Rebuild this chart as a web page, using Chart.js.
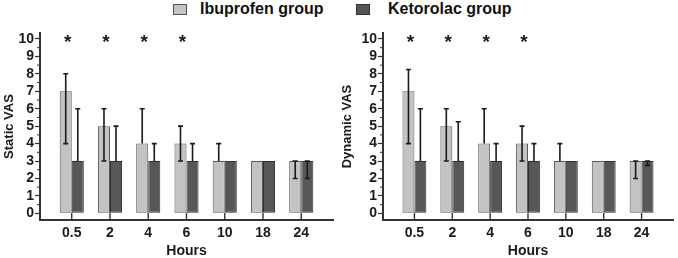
<!DOCTYPE html>
<html>
<head>
<meta charset="utf-8">
<script src="https://cdn.jsdelivr.net/npm/chart.js@4.4.1/dist/chart.umd.min.js"></script>
<style>
  body { margin: 0; width: 678px; height: 258px; background: #fff; position: relative; overflow: hidden;
         font-family: "Liberation Sans", Arial, sans-serif; }
  .box { position: absolute; top: 0; height: 258px; }
  .sw { position: absolute; top: 4px; width: 12px; height: 9px; }
  .lt { position: absolute; top: 0px; font-weight: bold; font-size: 16px; color: #111; white-space: nowrap; }
</style>
</head>
<body>
<div class="sw" style="left:173px;background:#c3c3c3;border:1px solid #555"></div>
<div class="lt" style="left:200px">Ibuprofen group</div>
<div class="sw" style="left:356px;background:#555;border:1px solid #333"></div>
<div class="lt" style="left:388px">Ketorolac group</div>

<div class="box" style="left:0;width:340px"><canvas id="staticVas"></canvas></div>
<div class="box" style="left:340px;width:338px"><canvas id="dynamicVas"></canvas></div>

<script>
// data (median with range bars)
const hours = ["0.5", "2", "4", "6", "10", "18", "24"];
const stars = ["*", "*", "*", "*", "", "", ""];
const yTicks = [0, 1, 2, 3, 4, 5, 6, 7, 8, 9, 10];

const staticIbu   = [7, 5, 4, 4, 3, 3, 3];
const staticIbuLo = [4, 3, 4, 3, 3, 3, 2];
const staticIbuHi = [8, 6, 6, 5, 4, 3, 3];
const staticKet   = [3, 3, 3, 3, 3, 3, 3];
const staticKetLo = [3, 3, 3, 3, 3, 3, 2];
const staticKetHi = [6, 5, 4, 4, 3, 3, 3];

const dynIbu   = [7, 5, 4, 4, 3, 3, 3];
const dynIbuLo = [4, 3, 4, 3, 3, 3, 2];
const dynIbuHi = [8.25, 6, 6, 5, 4, 3, 3];
const dynKet   = [3, 3, 3, 3, 3, 3, 3];
const dynKetLo = [3, 3, 3, 3, 3, 3, 2.75];
const dynKetHi = [6, 5.25, 4, 4, 3, 3, 3];

const ink = "#1a1a1a";
const fam = "'Liberation Sans', Arial, sans-serif";

// error bars, stars and the small extra tick marks
const extras = {
  id: "extras",
  afterDatasetsDraw(chart) {
    const ctx = chart.ctx;
    const xs = chart.scales.x, ys = chart.scales.y;
    const area = chart.chartArea;
    ctx.save();
    ctx.strokeStyle = ink;
    ctx.lineWidth = 1.6;
    chart.data.datasets.forEach((ds, di) => {
      const meta = chart.getDatasetMeta(di);
      meta.data.forEach((bar, i) => {
        const lo = ds.errLo[i], hi = ds.errHi[i];
        if (lo === hi) return;
        const y1 = ys.getPixelForValue(lo), y2 = ys.getPixelForValue(hi);
        ctx.beginPath();
        ctx.moveTo(bar.x, y1); ctx.lineTo(bar.x, y2);
        ctx.moveTo(bar.x - 2.5, y2); ctx.lineTo(bar.x + 2.5, y2);
        if (lo !== ds.data[i].y) { ctx.moveTo(bar.x - 2.5, y1); ctx.lineTo(bar.x + 2.5, y1); }
        ctx.stroke();
      });
    });
    // inward x ticks
    ctx.strokeStyle = "#333";
    ctx.lineWidth = 1.4;
    hours.forEach((h, i) => {
      const x = xs.getPixelForValue(i);
      ctx.beginPath(); ctx.moveTo(x, area.bottom); ctx.lineTo(x, area.bottom - 7); ctx.stroke();
    });
    // minor y ticks
    ctx.lineWidth = 1;
    for (let v = 0.5; v < 10; v += 1) {
      const y = ys.getPixelForValue(v);
      ctx.beginPath(); ctx.moveTo(area.left - 3, y); ctx.lineTo(area.left, y); ctx.stroke();
    }
    // significance stars
    ctx.fillStyle = ink;
    ctx.font = "bold 19px " + fam;
    ctx.textAlign = "center";
    ctx.textBaseline = "middle";
    stars.forEach((s, i) => {
      if (s) ctx.fillText(s, xs.getPixelForValue(i) - 4, ys.getPixelForValue(10) + 4);
    });
    ctx.restore();
  }
};

function makeChart(el, title, ibu, ibuLo, ibuHi, ket, ketLo, ketHi, axisW, rightPad, titlePad) {
  const pts = (arr) => arr.map((v, i) => ({ x: i, y: v }));
  return new Chart(document.getElementById(el), {
    type: "bar",
    data: {
      datasets: [
        { label: "Ibuprofen group", data: pts(ibu), errLo: ibuLo, errHi: ibuHi,
          backgroundColor: "#c3c3c3", borderColor: "#5a5a5a", borderWidth: 1, borderSkipped: false },
        { label: "Ketorolac group", data: pts(ket), errLo: ketLo, errHi: ketHi,
          backgroundColor: "#575757", borderColor: "#303030", borderWidth: 1, borderSkipped: false },
      ],
    },
    options: {
      responsive: true,
      maintainAspectRatio: false,
      animation: false,
      categoryPercentage: 0.63,
      barPercentage: 1,
      layout: { padding: { top: 33, right: rightPad, left: 0, bottom: 0 } },
      plugins: { legend: { display: false }, tooltip: { enabled: false } },
      scales: {
        x: {
          type: "linear", min: -0.83, max: 6.83, offset: false,
          afterBuildTicks: (s) => { s.ticks = hours.map((h, i) => ({ value: i })); },
          afterFit: (s) => { s.height = 38; },
          ticks: { callback: (v) => hours[v], color: ink, padding: 5, autoSkip: false, maxRotation: 0,
                   font: { family: fam, weight: "bold", size: 14 } },
          grid: { drawOnChartArea: false, drawTicks: false },
          border: { color: "#333", width: 2 },
          title: { display: true, text: "Hours", color: ink, padding: 0,
                   font: { family: fam, weight: "bold", size: 14, lineHeight: 1 } },
        },
        y: {
          min: -0.38, max: 10.34,
          afterBuildTicks: (s) => { s.ticks = yTicks.map((v) => ({ value: v })); },
          afterFit: (s) => { s.width = axisW; },
          ticks: { color: ink, padding: 1, autoSkip: false,
                   font: { family: fam, weight: "bold", size: 14 } },
          grid: { drawOnChartArea: false, tickLength: 5, tickColor: "#333", tickWidth: 1.2 },
          border: { color: "#333", width: 2 },
          title: { display: true, text: title, color: ink, padding: { top: titlePad, bottom: 0 },
                   font: { family: fam, weight: "bold", size: 13 } },
        },
      },
    },
    plugins: [extras],
  });
}

makeChart("staticVas", "Static VAS", staticIbu, staticIbuLo, staticIbuHi, staticKet, staticKetLo, staticKetHi, 40, 7, 2);
makeChart("dynamicVas", "Dynamic VAS", dynIbu, dynIbuLo, dynIbuHi, dynKet, dynKetLo, dynKetHi, 43, 5, 0);
</script>
</body>
</html>
